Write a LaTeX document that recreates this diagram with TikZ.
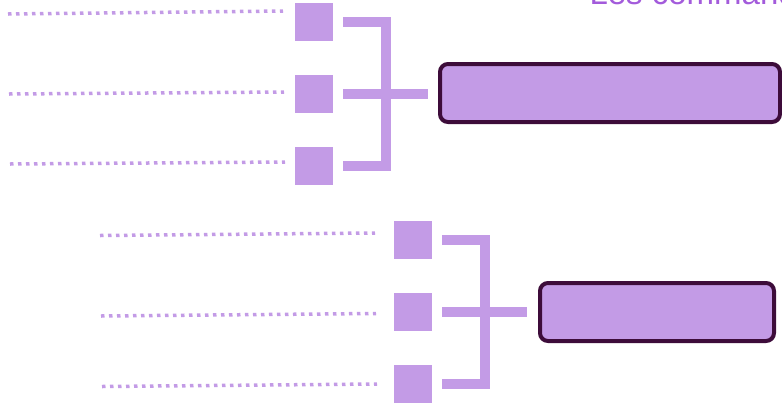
\documentclass[tikz,border=0pt]{standalone}
\usepackage{fontspec}
\newfontfamily\headfont{Liberation Sans}
\usetikzlibrary{calc}
\definecolor{lavender}{HTML}{C39BE6}
\definecolor{plum}{HTML}{3D0C3A}
\definecolor{headviolet}{HTML}{A35BDB}
\tikzset{
    item/.style = {
        fill=lavender,
        minimum size=38pt,
        inner sep=0pt,
    },
    target/.style = {
        draw=plum,
        fill=lavender,
        line width=4pt,
        rounded corners=8pt,
        minimum height=58pt,
        inner sep=0pt,
    },
    bracket/.style = {
        line width=10pt,
        lavender,
        line join=miter,
    },
    leader/.style = {
        line width=3.5pt,
        lavender,
        dash pattern=on 3.5pt off 4.5pt,
    },
    heading/.style = {
        headviolet,
        font=\headfont\fontsize{33}{40}\selectfont,
    }
}

\begin{document}
\begin{tikzpicture}[x=1pt, y=-1pt]
  \useasboundingbox (0, 0) rectangle (782, 405);

  % Title, cut by the top edge
  \node[heading, anchor=base west] (title) at (586, 4) {Les commandes};

  % Upper group
  \node[item] (sqA1) at (314, 22) {};
  \node[item] (sqA2) at (314, 94) {};
  \node[item] (sqA3) at (314, 166) {};
  \node[target, minimum width=340pt] (boxA) at (610, 93) {};

  \coordinate (inA1) at (8, 14);    \coordinate (endA1) at (283, 11);
  \coordinate (inA2) at (9, 94);    \coordinate (endA2) at (284, 92);
  \coordinate (inA3) at (10, 164);  \coordinate (endA3) at (285, 162);

  \draw[leader] (inA1) -- (endA1);
  \draw[leader] (inA2) -- (endA2);
  \draw[leader] (inA3) -- (endA3);

  \draw[bracket] ([xshift=10pt]sqA1.east) -- ++(42.5, 0) |- ([xshift=10pt]sqA3.east);
  \draw[bracket] ([xshift=10pt]sqA2.east) -- ([xshift=-10pt]sqA2.east -| boxA.west);

  % Lower group
  \node[item] (sqB1) at (413, 240) {};
  \node[item] (sqB2) at (413, 312) {};
  \node[item] (sqB3) at (413, 384) {};
  \node[target, minimum width=234pt] (boxB) at (657, 312) {};

  \coordinate (inB1) at (100, 235.5);  \coordinate (endB1) at (375, 233);
  \coordinate (inB2) at (101, 316);    \coordinate (endB2) at (376, 313.5);
  \coordinate (inB3) at (102, 386.5);  \coordinate (endB3) at (377, 384);

  \draw[leader] (inB1) -- (endB1);
  \draw[leader] (inB2) -- (endB2);
  \draw[leader] (inB3) -- (endB3);

  \draw[bracket] ([xshift=10pt]sqB1.east) -- ++(42.5, 0) |- ([xshift=10pt]sqB3.east);
  \draw[bracket] ([xshift=10pt]sqB2.east) -- ([xshift=-11pt]sqB2.east -| boxB.west);

\end{tikzpicture}
\end{document}
